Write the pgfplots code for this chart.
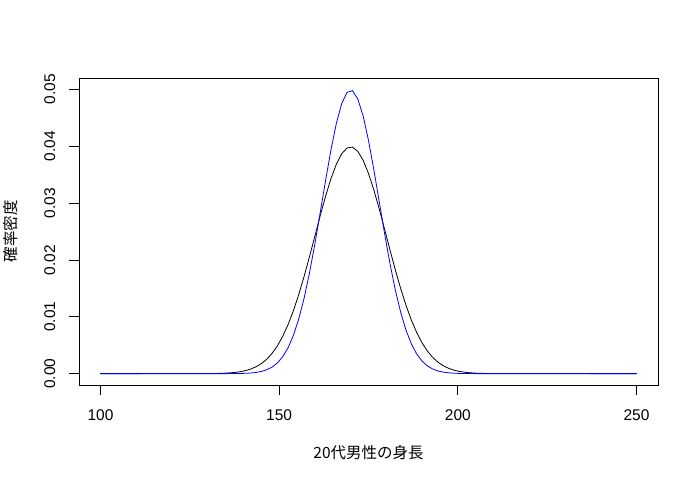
\documentclass[border=0pt]{standalone}
\usepackage{fontspec}
\setmainfont{Liberation Sans}
\newfontfamily\cjk{Noto Sans CJK JP}
\usepackage{pgfplots}
\pgfplotsset{compat=1.18}

\begin{document}
\begin{tikzpicture}
\fontsize{15.5bp}{18bp}\selectfont
\path[use as bounding box] (0,0) rectangle (700bp,484bp);
\begin{axis}[
    at={(79bp,99bp)}, anchor=south west,
    scale only axis, width=579bp, height=307bp,
    xmin=94, xmax=256, ymin=-0.002, ymax=0.052,
    axis line style={line width=0.8bp},
    xtick={100,150,200,250},
    ytick={0,0.01,0.02,0.03,0.04,0.05},
    yticklabels={0.00,0.01,0.02,0.03,0.04,0.05},
    scaled y ticks=false,
    xtick pos=bottom, ytick pos=left,
    tick align=outside, major tick length=9.6bp,
    tick style={line width=0.8bp, black},
    xticklabel style={anchor=north, inner sep=0pt, yshift=-15bp},
    yticklabel style={rotate=90, anchor=south, inner sep=0pt, yshift=14bp},
    /pgf/number format/assume math mode=true,
    xlabel={\cjk 20代男性の身長},
    ylabel={\cjk 確率密度},
    xlabel style={at={(axis description cs:0.5,-0.2199)}, anchor=center},
    ylabel style={at={(axis description cs:-0.1174,0.5)}, anchor=center, rotate=0},
    clip=false,
]
\addplot[black, line width=0.8bp] coordinates {
(100,0) (130,0.0000134) (131.5,0.0000241) (133,0.0000425) (134.5,0.0000732)
(136,0.0001232) (137.5,0.000203) (139,0.000327) (140.5,0.000514) (142,0.000792)
(143.5,0.001192) (145,0.001753) (146.5,0.002522) (148,0.003547) (149.5,0.004880)
(151,0.006562) (152.5,0.008630) (154,0.011092) (155.5,0.013947) (157,0.017137)
(158.5,0.020599) (160,0.024197) (161.5,0.027806) (163,0.031225) (164.5,0.034303)
(166,0.036827) (167.5,0.038677) (169,0.039695) (170.5,0.039844) (172,0.039104)
(173.5,0.037533) (175,0.035207) (176.5,0.032305) (178,0.028970) (179.5,0.025412)
(181,0.021785) (182.5,0.018268) (184,0.014973) (185.5,0.012004) (187,0.009405)
(188.5,0.007208) (190,0.005399) (191.5,0.003956) (193,0.002833) (194.5,0.001984)
(196,0.001358) (197.5,0.000910) (199,0.000595) (200.5,0.000381) (202,0.000238)
(203.5,0.000146) (205,0.0000873) (206.5,0.0000511) (208,0.0000292) (209.5,0.0000163)
(250,0)
};
\addplot[blue, line width=0.8bp] coordinates {
(100,0) (130,0.0000002) (131.5,0.0000005) (133,0.0000011) (134.5,0.0000026)
(136,0.0000060) (137.5,0.0000130) (139,0.0000274) (140.5,0.0000556) (142,0.0001091)
(143.5,0.0002067) (145,0.0003777) (146.5,0.000667) (148,0.001137) (149.5,0.001871)
(151,0.002972) (152.5,0.004556) (154,0.006749) (155.5,0.009644) (157,0.013318)
(158.5,0.017746) (160,0.022831) (161.5,0.028359) (163,0.034005) (164.5,0.039371)
(166,0.044008) (167.5,0.047491) (169,0.049480) (170.5,0.049771) (172,0.048333)
(173.5,0.045317) (175,0.041020) (176.5,0.035846) (178,0.030247) (179.5,0.024640)
(181,0.019377) (182.5,0.014712) (184,0.010785) (185.5,0.007632) (187,0.005215)
(188.5,0.003440) (190,0.002191) (191.5,0.001347) (193,0.000800) (194.5,0.000458)
(196,0.000254) (197.5,0.0001355) (199,0.0000699) (200.5,0.0000348) (202,0.0000167)
(203.5,0.0000078) (205,0.0000035) (206.5,0.0000015) (208,0.0000006) (209.5,0.0000003)
(250,0)
};
\end{axis}
\end{tikzpicture}
\end{document}
